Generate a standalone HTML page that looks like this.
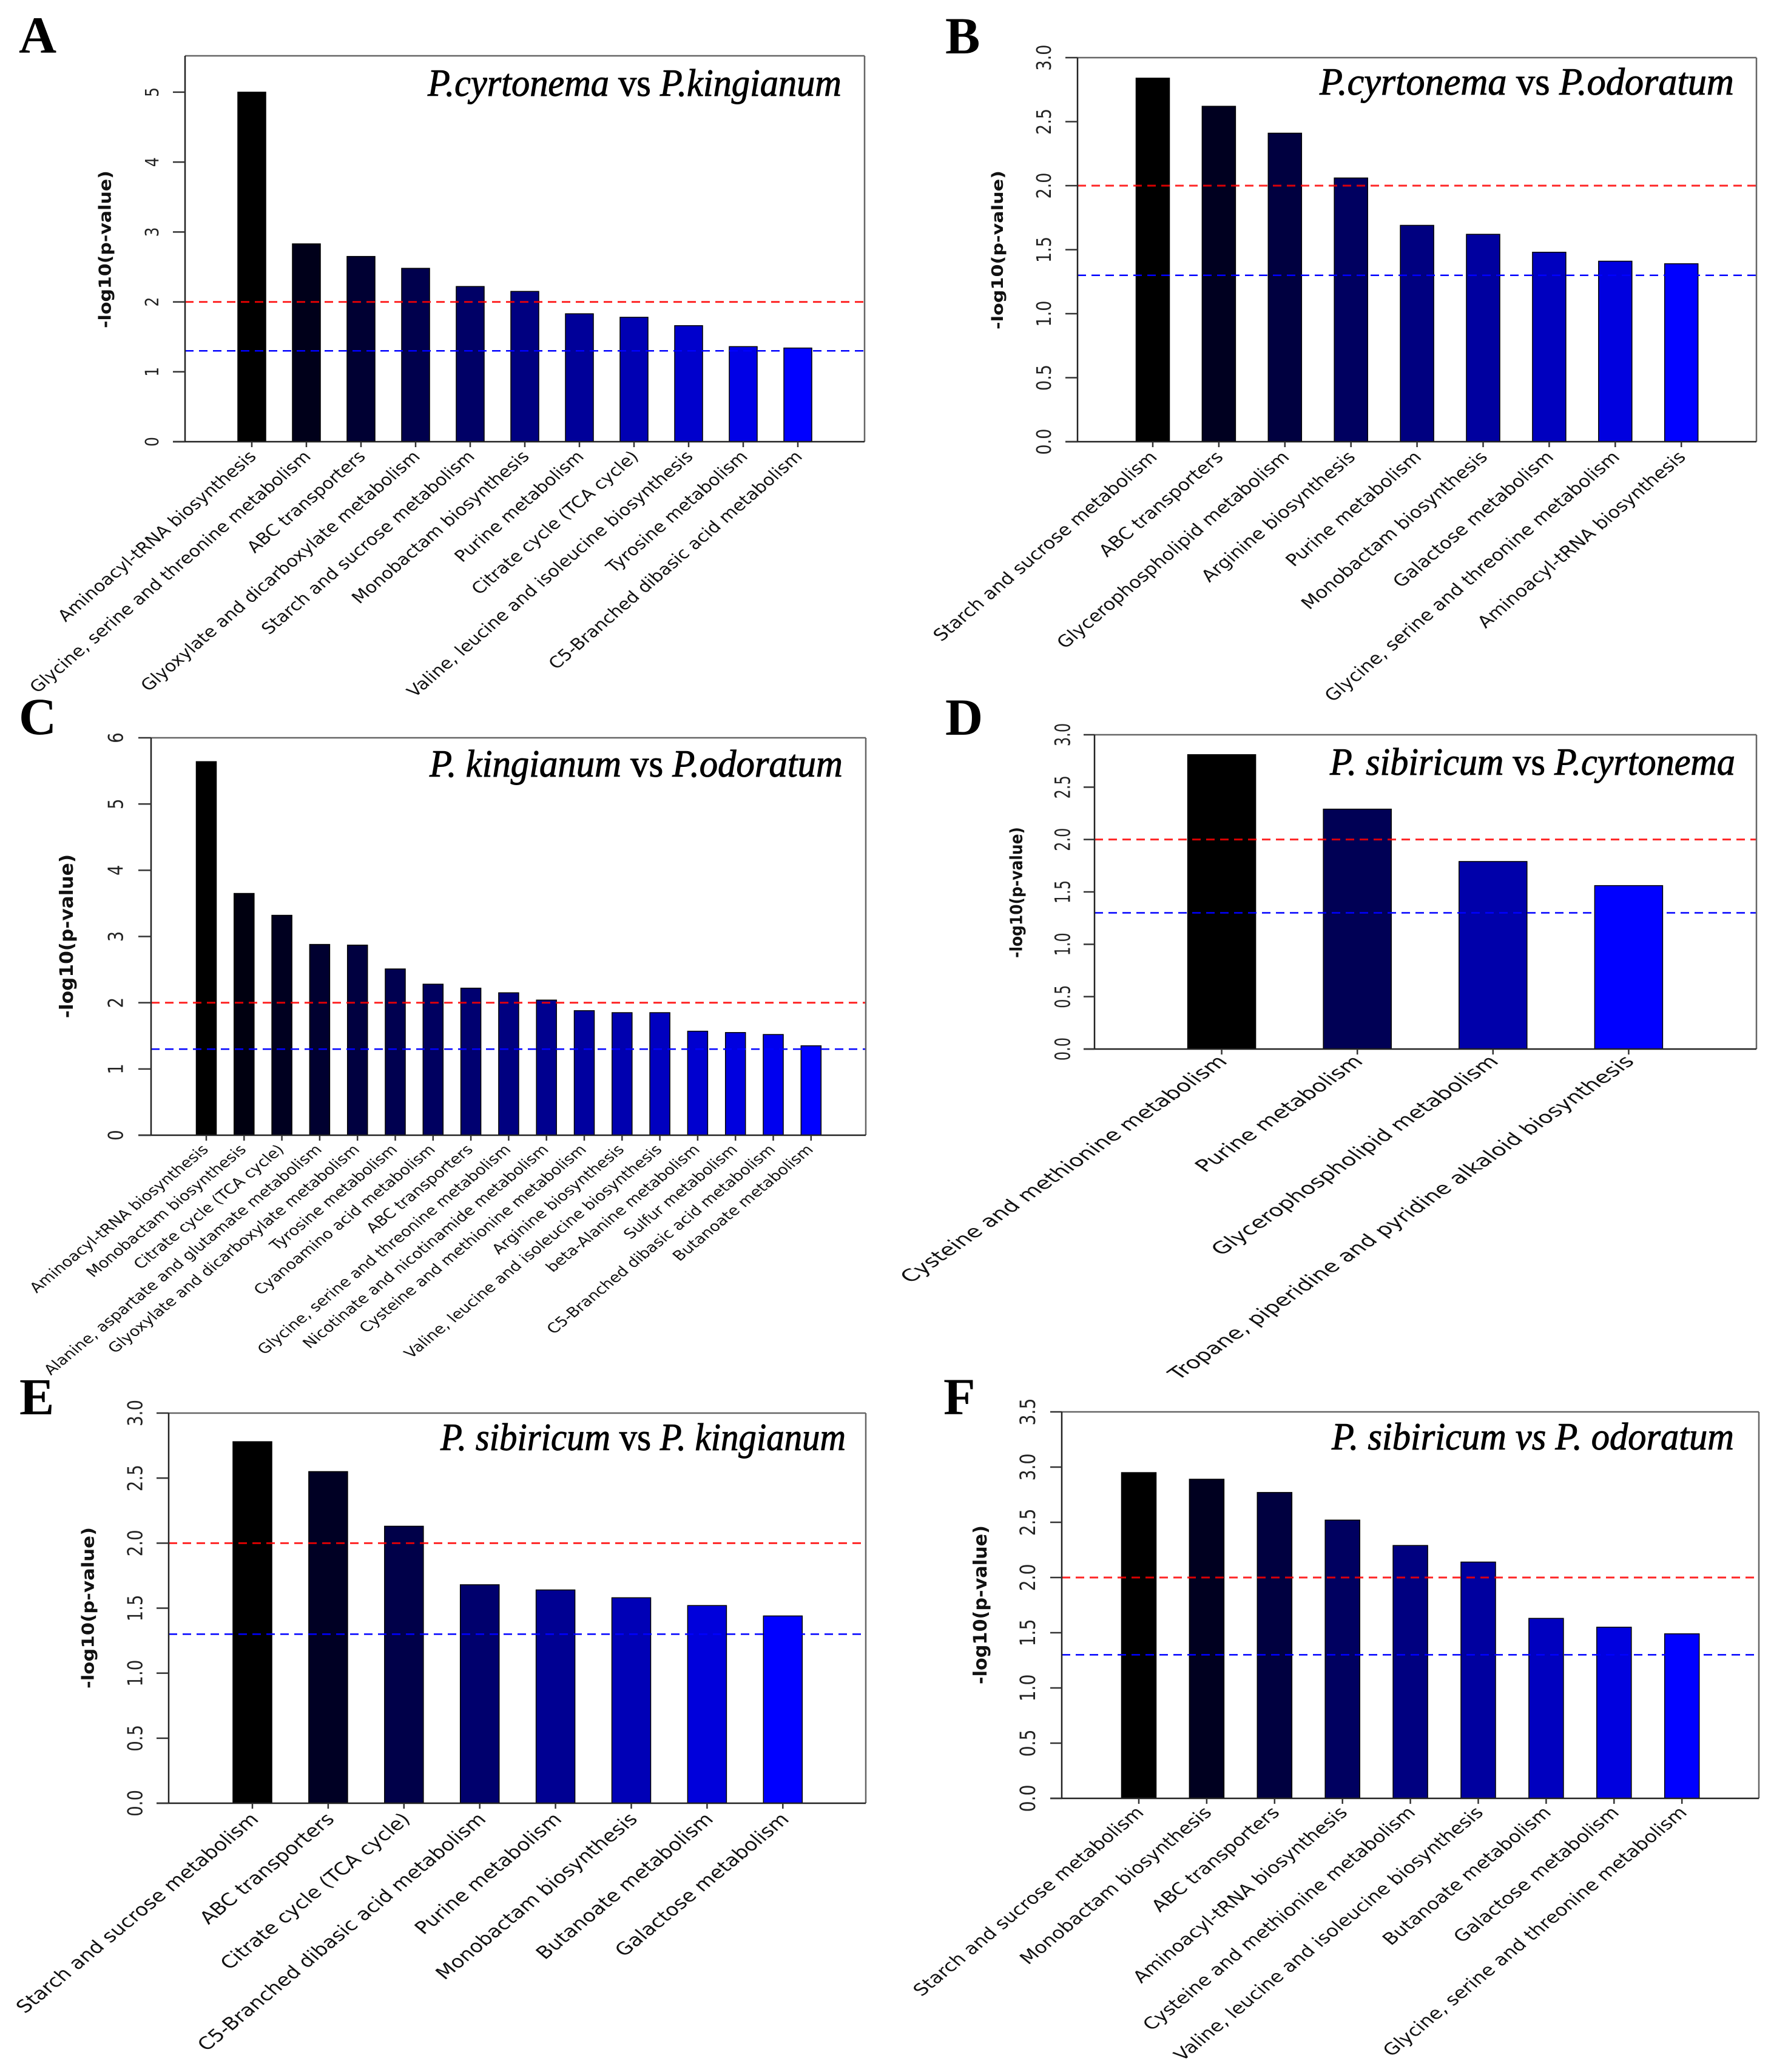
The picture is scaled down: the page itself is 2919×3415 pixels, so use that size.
<!DOCTYPE html>
<html lang="en">
<head>
<meta charset="utf-8">
<title>-log10(p-value) pathway enrichment bar charts</title>
<style>
html,body{margin:0;padding:0;background:#fff;}
svg{display:block;}
.sans{font-family:"DejaVu Sans","Liberation Sans",sans-serif;}
.serif{font-family:"Liberation Serif",serif;}
</style>
</head>
<body>
<svg id="figure" xmlns="http://www.w3.org/2000/svg" width="2919" height="3415" viewBox="0 0 2919 3415">
<rect x="0" y="0" width="2919" height="3415" fill="#fff"/>
</svg>
<script>
/* ---------- chart data ---------- */
const categoriesA = ["Aminoacyl-tRNA biosynthesis","Glycine, serine and threonine metabolism","ABC transporters","Glyoxylate and dicarboxylate metabolism","Starch and sucrose metabolism","Monobactam biosynthesis","Purine metabolism","Citrate cycle (TCA cycle)","Valine, leucine and isoleucine biosynthesis","Tyrosine metabolism","C5-Branched dibasic acid metabolism"];
const valuesA = [5.0,2.83,2.65,2.48,2.22,2.15,1.83,1.78,1.66,1.36,1.34];
const ticksA = ["0","1","2","3","4","5"];

const categoriesB = ["Starch and sucrose metabolism","ABC transporters","Glycerophospholipid metabolism","Arginine biosynthesis","Purine metabolism","Monobactam biosynthesis","Galactose metabolism","Glycine, serine and threonine metabolism","Aminoacyl-tRNA biosynthesis"];
const valuesB = [2.84,2.62,2.41,2.06,1.69,1.62,1.48,1.41,1.39];
const ticksB = ["0.0","0.5","1.0","1.5","2.0","2.5","3.0"];

const categoriesC = ["Aminoacyl-tRNA biosynthesis","Monobactam biosynthesis","Citrate cycle (TCA cycle)","Alanine, aspartate and glutamate metabolism","Glyoxylate and dicarboxylate metabolism","Tyrosine metabolism","Cyanoamino acid metabolism","ABC transporters","Glycine, serine and threonine metabolism","Nicotinate and nicotinamide metabolism","Cysteine and methionine metabolism","Arginine biosynthesis","Valine, leucine and isoleucine biosynthesis","beta-Alanine metabolism","Sulfur metabolism","C5-Branched dibasic acid metabolism","Butanoate metabolism"];
const valuesC = [5.64,3.65,3.32,2.88,2.87,2.51,2.28,2.22,2.15,2.04,1.88,1.85,1.85,1.57,1.55,1.52,1.35];
const ticksC = ["0","1","2","3","4","5","6"];

const categoriesD = ["Cysteine and methionine metabolism","Purine metabolism","Glycerophospholipid metabolism","Tropane, piperidine and pyridine alkaloid biosynthesis"];
const valuesD = [2.81,2.29,1.79,1.56];
const ticksD = ["0.0","0.5","1.0","1.5","2.0","2.5","3.0"];

const categoriesE = ["Starch and sucrose metabolism","ABC transporters","Citrate cycle (TCA cycle)","C5-Branched dibasic acid metabolism","Purine metabolism","Monobactam biosynthesis","Butanoate metabolism","Galactose metabolism"];
const valuesE = [2.78,2.55,2.13,1.68,1.64,1.58,1.52,1.44];
const ticksE = ["0.0","0.5","1.0","1.5","2.0","2.5","3.0"];

const categoriesF = ["Starch and sucrose metabolism","Monobactam biosynthesis","ABC transporters","Aminoacyl-tRNA biosynthesis","Cysteine and methionine metabolism","Valine, leucine and isoleucine biosynthesis","Butanoate metabolism","Galactose metabolism","Glycine, serine and threonine metabolism"];
const valuesF = [2.95,2.89,2.77,2.52,2.29,2.14,1.63,1.55,1.49];
const ticksF = ["0.0","0.5","1.0","1.5","2.0","2.5","3.0","3.5"];

const thresholdRed = 2;
const thresholdBlue = 1.3;

/* ---------- panel layout ---------- */
const panels = [
 {id:"a",letter:"A",lx:31,ly:87,cats:categoriesA,vals:valuesA,ticks:ticksA,tickStep:1,ymax:5.52,
  L:305,R:1425,T:92,B:728,first:415,step:90,bw:46,tickL:285,tickX:250,tf:28,sx:1.08,sy:0.895,lf:26,
  lsx:1.174,lsy:1.011,ax:9,ay:26,
  titleX:175,titleY:411,titleLen:254,titleTh:28,
  t:["P.cyrtonema ","vs"," P.kingianum"],tx0:705,tx1:1387,ty:158},
 {id:"b",letter:"B",lx:1558,ly:88,cats:categoriesB,vals:valuesB,ticks:ticksB,tickStep:0.5,ymax:3,
  L:1776,R:2895,T:95,B:728,first:1900,step:108.9,bw:55,tickL:1756,tickX:1720,tf:29,sx:1.13,sy:0.934,lf:26,
  lsx:1.232,lsy:1.046,ax:9,ay:27,
  titleX:1646,titleY:412,titleLen:256,titleTh:26,
  t:["P.cyrtonema ","vs"," P.odoratum"],tx0:2175,tx1:2858,ty:156},
 {id:"c",letter:"C",lx:31,ly:1210,cats:categoriesC,vals:valuesC,ticks:ticksC,tickStep:1,ymax:6,
  L:249,R:1427,T:1216,B:1871,first:340,step:62.3,bw:33,tickL:228,tickX:190,tf:34.7,sx:0.98,sy:0.79,lf:26,
  lsx:1.058,lsy:0.877,ax:5,ay:25,
  titleX:112,titleY:1543,titleLen:264,titleTh:30,
  t:["P. kingianum ","vs"," P.odoratum"],tx0:708,tx1:1389,ty:1280},
 {id:"d",letter:"D",lx:1558,ly:1211,cats:categoriesD,vals:valuesD,ticks:ticksD,tickStep:0.5,ymax:3,
  L:1804,R:2895,T:1211,B:1729,first:2013.6,step:223.6,bw:112,tickL:1786,tickX:1751,tf:24,sx:1.44,sy:1.0,lf:26,
  lsx:1.522,lsy:1.06,ax:11,ay:22,
  titleX:1677,titleY:1471,titleLen:211,titleTh:28,
  t:["P. sibiricum ","vs"," P.cyrtonema"],tx0:2192,tx1:2860,ty:1277},
 {id:"e",letter:"E",lx:32,ly:2331,cats:categoriesE,vals:valuesE,ticks:ticksE,tickStep:0.5,ymax:3,
  L:278,R:1427,T:2329,B:2972,first:416,step:124.9,bw:64,tickL:258,tickX:222,tf:26.5,sx:1.27,sy:1.04,lf:26,
  lsx:1.334,lsy:1.102,ax:12,ay:28,
  titleX:147,titleY:2650,titleLen:260,titleTh:28,
  t:["P. sibiricum ","vs"," P. kingianum"],tx0:726,tx1:1394,ty:2390},
 {id:"f",letter:"F",lx:1555,ly:2331,cats:categoriesF,vals:valuesF,ticks:ticksF,tickStep:0.5,ymax:3.5,
  L:1750,R:2899,T:2327,B:2964,first:1877,step:111.9,bw:57,tickL:1731,tickX:1693,tf:30,sx:1.17,sy:0.94,lf:26,
  lsx:1.269,lsy:1.043,ax:10,ay:25,
  titleX:1618,titleY:2645,titleLen:256,titleTh:30,
  t:["P. sibiricum ","vs"," P. odoratum"],tx0:2195,tx1:2858,ty:2389}
];

/* ---------- drawing ---------- */
const NS = "http://www.w3.org/2000/svg";
const figure = document.getElementById("figure");
function mk(parent, tag, attrs, text){
  const node = document.createElementNS(NS, tag);
  for (const k in attrs) node.setAttribute(k, attrs[k]);
  if (text !== undefined) node.textContent = text;
  parent.appendChild(node);
  return node;
}
function slug(s){ return s.toLowerCase().replace(/[^a-z0-9]+/g,"-").replace(/^-|-$/g,""); }

panels.forEach(function(p){
  const yScale = function(v){ return p.B - v / p.ymax * (p.B - p.T); };
  const xScale = function(i){ return p.first + i * p.step; };

  const g = mk(figure, "g", {});
  
  

  const letter = mk(g, "text", {x:p.lx, y:p.ly, "class":"serif", "font-size":86, "font-weight":"bold", fill:"#000"}, p.letter);
  
  

  /* bars */
  p.vals.forEach(function(v, i){
    const blue = Math.round(255 * i / (p.vals.length - 1));
    const y = yScale(v);
    const bar = mk(g, "rect", {x:xScale(i) - p.bw / 2, y:y, width:p.bw, height:p.B - y,
      fill:"rgb(0,0," + blue + ")", stroke:"#000", "stroke-width":1.5});
    
    
  });

  /* threshold lines */
  const redLine = mk(g, "line", {x1:p.L, x2:p.R, y1:yScale(thresholdRed), y2:yScale(thresholdRed),
    stroke:"#ff0000", "stroke-width":3, "stroke-dasharray":"14 9", opacity:0.85});
  
  
  const blueLine = mk(g, "line", {x1:p.L, x2:p.R, y1:yScale(thresholdBlue), y2:yScale(thresholdBlue),
    stroke:"#0000ff", "stroke-width":2.5, "stroke-dasharray":"14 9"});
  
  

  /* frame */
  const topEdge = mk(g, "line", {x1:p.L, x2:p.R, y1:p.T, y2:p.T, stroke:"#666", "stroke-width":2.5});
  
  
  const rightEdge = mk(g, "line", {x1:p.R, x2:p.R, y1:p.T, y2:p.B, stroke:"#666", "stroke-width":2.5});
  
  
  const leftEdge = mk(g, "line", {x1:p.L, x2:p.L, y1:p.T, y2:p.B, stroke:"#222", "stroke-width":2.5});
  
  
  const bottomEdge = mk(g, "line", {x1:p.tickL, x2:p.R, y1:p.B, y2:p.B, stroke:"#222", "stroke-width":2.5});
  
  

  /* y ticks */
  p.ticks.forEach(function(label, i){
    const y = yScale(i * p.tickStep);
    const tick = mk(g, "line", {x1:p.tickL, x2:p.L, y1:y, y2:y, stroke:"#333", "stroke-width":2.5});
    
    
    const baseX = p.tickX + 0.365 * p.tf * p.sx;
    const tl = mk(g, "text", {"class":"sans", "font-size":p.tf, fill:"#222", "text-anchor":"middle",
      transform:"translate(" + baseX + "," + y + ") scale(" + p.sx + "," + p.sy + ") rotate(-90)"}, label);
    
    
  });

  /* y title */
  const fs = p.titleLen / 8.458;
  const yTitle = mk(g, "text", {"class":"sans", "font-size":fs, "font-weight":"bold", fill:"#111", "text-anchor":"middle",
    transform:"translate(" + (p.titleX + 0.26 * p.titleTh) + "," + p.titleY + ") scale(" + (p.titleTh / fs) + ",1) rotate(-90)"}, "-log10(p-value)");
  
  

  /* x ticks + category labels */
  p.cats.forEach(function(c, i){
    const x = xScale(i);
    const tick = mk(g, "line", {x1:x, x2:x, y1:p.B, y2:p.B + 9, stroke:"#333", "stroke-width":2.5});
    
    
    const lab = mk(g, "text", {"class":"sans", "font-size":p.lf, fill:"#111", "text-anchor":"end",
      transform:"translate(" + (x + p.ax) + "," + (p.B + p.ay) + ") scale(" + p.lsx + "," + p.lsy + ") rotate(-45)"}, c);
    
    
  });

  /* comparison title, stretched to its measured width */
  const title = mk(g, "text", {"class":"serif", "font-size":64, "font-style":"italic", fill:"#000", stroke:"#000", "stroke-width":1});
  
  
  mk(title, "tspan", {}, p.t[0]);
  mk(title, "tspan", {"font-style":p.id === "f" ? "italic" : "normal"}, p.t[1]);
  mk(title, "tspan", {}, p.t[2]);
  title.style.whiteSpace = "pre";
  const len = title.getComputedTextLength();
  title.setAttribute("transform", "translate(" + p.tx0 + "," + p.ty + ") scale(" + ((p.tx1 - p.tx0) / len) + ",1)");
});
</script>
</body>
</html>
